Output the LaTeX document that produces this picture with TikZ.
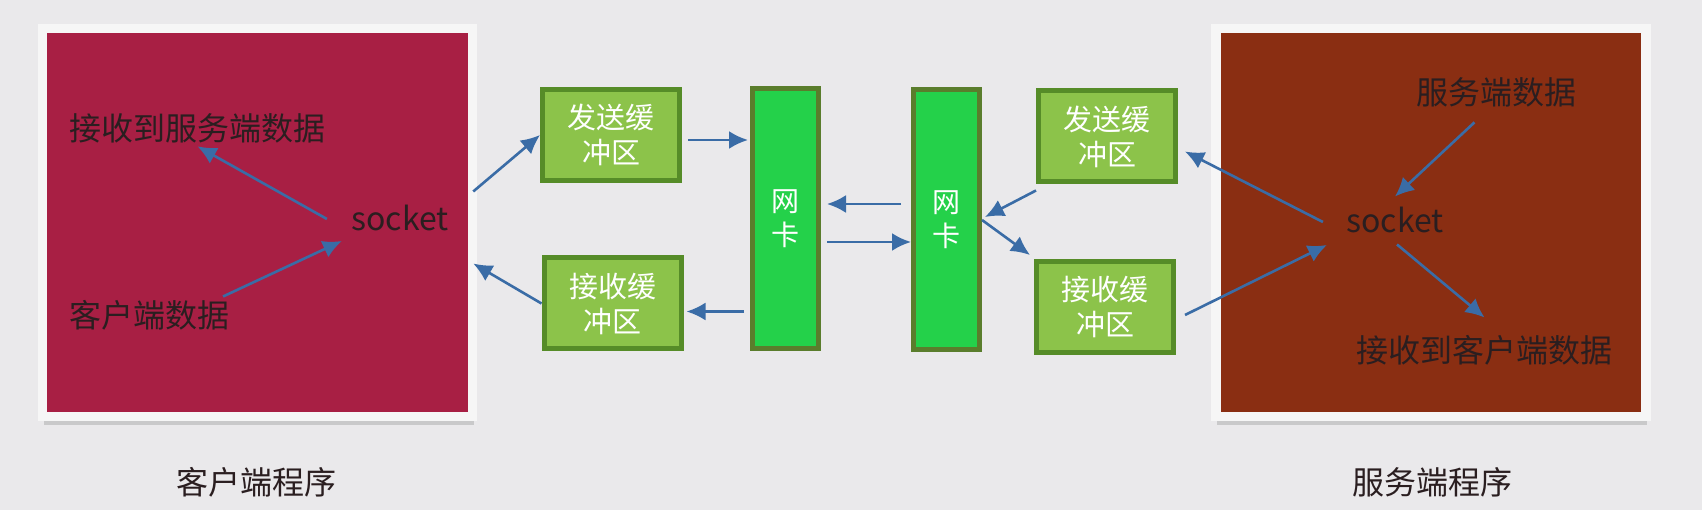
\documentclass[tikz,border=0pt]{standalone}
\usepackage{fontspec}
\setmainfont{Noto Sans CJK SC}
\usetikzlibrary{arrows.meta,calc,shadows}
\usepackage{xcolor}
\definecolor{bgGrey}{HTML}{EAE9EB}
\definecolor{frameWhite}{HTML}{F6F6F6}
\definecolor{clientRed}{HTML}{A81F44}
\definecolor{serverBrown}{HTML}{8A2E12}
\definecolor{bufGreen}{HTML}{8CC34A}
\definecolor{bufEdge}{HTML}{568C28}
\definecolor{nicGreen}{HTML}{24D14A}
\definecolor{nicEdge}{HTML}{5A7D2C}
\definecolor{arrBlue}{HTML}{3A6CA6}
\definecolor{inkDark}{HTML}{2A1E20}
\tikzset{
    host/.style={
        draw=frameWhite,line width=9.5pt,fill=#1,
        minimum width=430pt,minimum height=387.5pt,inner sep=0pt,
        drop shadow={shadow xshift=1pt,shadow yshift=-9pt,opacity=.3}
    },
    buf/.style={
        draw=bufEdge,line width=5pt,fill=bufGreen,
        minimum width=137pt,minimum height=91pt,align=center,
        text=white,font=\fontsize{29}{35}\selectfont
    },
    nic/.style={
        draw=nicEdge,line width=5pt,fill=nicGreen,
        minimum width=66pt,minimum height=260pt,align=center,
        text=white,font=\fontsize{28}{34}\selectfont
    },
    lbl/.style={text=inkDark,font=\fontsize{32}{38}\selectfont},
    arr/.style={
        -{Latex[length=19pt,width=18pt]},line width=2.6pt,draw=arrBlue
    }
}
\begin{document}
\begin{tikzpicture}[x=1pt,y=-1pt]

\useasboundingbox (0,0) rectangle (1702,510);
\fill[bgGrey] (0,0) rectangle (1702,510);

% the two programs
\node[host=clientRed] (client) at (257.5,222.5) {};
\node[host=serverBrown] (server) at (1431,222.5) {};

\node[lbl] (crecv) at (197.5,128) {接收到服务端数据};
\node[lbl] (cdata) at (149.5,315) {客户端数据};
\node[lbl] (csock) at (400,218) {socket};

\node[lbl] (sdata) at (1496.5,92) {服务端数据};
\node[lbl] (ssock) at (1395,220) {socket};
\node[lbl] (srecv) at (1484.5,350) {接收到客户端数据};

\node[lbl] (clabel) at (256,482) {客户端程序};
\node[lbl] (slabel) at (1432,482) {服务端程序};

% buffers and network cards
\node[buf] (csend) at (611,135) {发送缓\\冲区};
\node[buf] (crecvbuf) at (612.5,303.5) {接收缓\\冲区};
\node[nic] (cnic) at (785.5,218.5) {网\\卡};
\node[nic] (snic) at (946.5,220) {网\\卡};
\node[buf] (ssend) at (1107,136.5) {发送缓\\冲区};
\node[buf] (srecvbuf) at (1105,307) {接收缓\\冲区};

% client side
\draw[arr] ($(csock.west)+(-21,1)$) -- (crecv.south);
\draw[arr] ($(cdata.north east)+(-10,0)$) -- ($(csock.west)+(-6,23)$);
\draw[arr] ($(client.east)+(-4,-31)$) -- (csend.west);
\draw[arr] (crecvbuf.west) -- ($(client.east)+(-4,41)$);
\draw[arr] ($(csend.east)+(6,5)$) -- ($(csend.east -| cnic.west)+(-2,5)$);
\draw[arr] ($(crecvbuf.east -| cnic.west)+(-6,8)$) -- ($(crecvbuf.east)+(3,8)$);

% between the cards
\draw[arr] ($(snic.west)+(-10,-16)$) -- ($(cnic.east)+(6,-14.5)$);
\draw[arr] ($(cnic.east)+(6,23.5)$) -- ($(snic.west)+(0,22)$);

% server side
\draw[arr] ($(ssend.south west)+(0,6)$) -- ($(snic.east)+(3,-3)$);
\draw[arr] (snic.east) -- ($(srecvbuf.north west)+(-4,-4)$);
\draw[arr] ($(ssock.west)+(-20,2)$) -- ($(ssend.east)+(7,15)$);
\draw[arr] ($(srecvbuf.east)+(9,8)$) -- ($(ssock.west)+(-16,25)$);
\draw[arr] ($(sdata.south)+(-22,12)$) -- ($(ssock.north)+(0,-7)$);
\draw[arr] ($(ssock.south)+(2,8)$) -- ($(srecv.north)+(0,-14)$);

\end{tikzpicture}
\end{document}
